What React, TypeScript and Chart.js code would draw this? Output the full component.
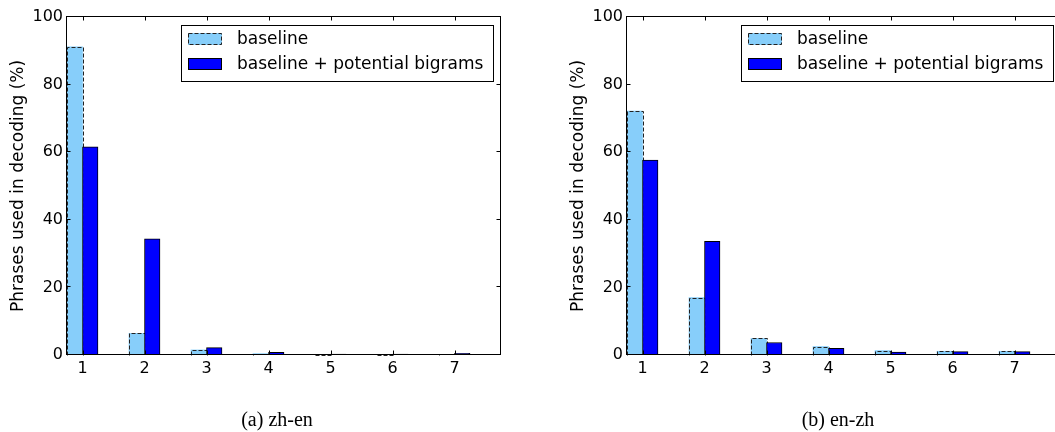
import React, { useEffect, useRef } from 'react';
import { Chart, registerables } from 'chart.js';

Chart.register(...registerables);

// ---- data ----
const CATEGORIES = [1, 2, 3, 4, 5, 6, 7];
const ZH_EN_BASELINE = [91.2, 6.4, 1.5, 0.4, 0.1, 0.1, 0.2];
const ZH_EN_BIGRAMS = [61.6, 34.4, 2.2, 0.8, 0.3, 0.3, 0.5];
const EN_ZH_BASELINE = [72.2, 17.0, 4.9, 2.5, 1.3, 1.1, 1.1];
const EN_ZH_BIGRAMS = [57.7, 33.6, 3.7, 2.0, 0.9, 1.0, 1.0];
const Y_TICKS = [0, 20, 40, 60, 80, 100];
const SERIES_LABELS = ['baseline', 'baseline + potential bigrams'];
const Y_TITLE = 'Phrases used in decoding (%)';
const CAPTIONS = ['(a) zh-en', '(b) en-zh'];

// ---- styles ----
const LIGHT = '#87CEFA';
const DARK = '#0000FF';
const FONT = "'DejaVu Sans', sans-serif";
const BAR_HALF = 0.125;

Chart.defaults.font.family = FONT;
Chart.defaults.font.size = 16;
Chart.defaults.color = '#000';

const decorPlugin = {
  id: 'decor',
  afterDatasetDraw(chart: any, args: any) {
    if (args.index !== 0) return;
    const ctx = chart.ctx;
    ctx.save();
    ctx.strokeStyle = '#222';
    ctx.lineWidth = 1;
    ctx.setLineDash([4, 2]);
    for (const el of args.meta.data) {
      const p = el.getProps(['x', 'y', 'base', 'width'], true);
      const l = Math.round(p.x - p.width / 2) + 0.5;
      const r = Math.round(p.x + p.width / 2) + 0.5;
      const t = Math.round(p.y) + 0.5;
      const b = Math.round(p.base) + 0.5;
      ctx.beginPath();
      ctx.moveTo(l, b);
      ctx.lineTo(l, t);
      ctx.lineTo(r, t);
      ctx.lineTo(r, b);
      ctx.stroke();
    }
    ctx.restore();
  },
  afterDraw(chart: any) {
    const ctx = chart.ctx;
    const ca = chart.chartArea;
    const xs = chart.scales.x;
    const ys = chart.scales.y;
    const x0 = Math.round(ca.left) - 0.5;
    const x1 = Math.round(ca.right) - 0.5;
    const y0 = Math.round(ca.top) - 0.5;
    const y1 = Math.round(ca.bottom) - 0.5;
    ctx.save();
    ctx.strokeStyle = '#000';
    ctx.lineWidth = 1;
    ctx.setLineDash([]);
    ctx.strokeRect(x0, y0, x1 - x0, y1 - y0);
    const TL = 4;
    ctx.beginPath();
    for (const t of xs.ticks) {
      const px = Math.round(xs.getPixelForValue(t.value)) + 0.5;
      ctx.moveTo(px, y1);
      ctx.lineTo(px, y1 - TL);
      ctx.moveTo(px, y0);
      ctx.lineTo(px, y0 + TL);
    }
    for (const t of ys.ticks) {
      const py = Math.round(ys.getPixelForValue(t.value)) - 0.5;
      ctx.moveTo(x0, py);
      ctx.lineTo(x0 + TL, py);
      ctx.moveTo(x1, py);
      ctx.lineTo(x1 - TL, py);
    }
    ctx.stroke();

    // legend
    const bx = Math.round(ca.left) + 114;
    const by = Math.round(ca.top) + 8;
    const bw = Math.round(ca.right) - 8 - bx;
    const bh = 56;
    ctx.fillStyle = '#fff';
    ctx.fillRect(bx, by, bw, bh);
    ctx.strokeStyle = '#000';
    ctx.strokeRect(bx + 0.5, by + 0.5, bw, bh);
    const ds = chart.data.datasets;
    const rows = [by + 8, by + 33];
    ds.forEach((d: any, i: number) => {
      const py = rows[i];
      const px = bx + 7;
      ctx.fillStyle = d.backgroundColor;
      ctx.fillRect(px, py, 34, 12);
      if (i === 0) {
        ctx.setLineDash([4, 2]);
        ctx.strokeStyle = '#222';
      } else {
        ctx.setLineDash([]);
        ctx.strokeStyle = '#000';
      }
      ctx.strokeRect(px + 0.5, py + 0.5, 33, 11);
      ctx.setLineDash([]);
      ctx.fillStyle = '#000';
      ctx.font = `17px ${FONT}`;
      ctx.textBaseline = 'middle';
      ctx.textAlign = 'left';
      ctx.fillText(d.label, bx + 56, py + 6.5);
    });
    ctx.restore();
  },
};

type PanelProps = { left: number; baseline: number[]; bigrams: number[] };

function Panel({ left, baseline, bigrams }: PanelProps) {
  const ref = useRef<HTMLCanvasElement>(null);
  useEffect(() => {
    const chart = new Chart(ref.current as HTMLCanvasElement, {
      type: 'bar',
      data: {
        datasets: [
          {
            label: SERIES_LABELS[0],
            data: CATEGORIES.map((c, i) => ({ x: c - BAR_HALF, y: baseline[i] })),
            backgroundColor: LIGHT,
            borderWidth: 0,
            order: 1,
          },
          {
            label: SERIES_LABELS[1],
            data: CATEGORIES.map((c, i) => ({ x: c + BAR_HALF, y: bigrams[i] })),
            backgroundColor: DARK,
            borderColor: '#000',
            borderWidth: 1,
            borderSkipped: false,
            order: 0,
          },
        ],
      },
      options: {
        responsive: false,
        animation: false,
        events: [],
        layout: { padding: { left: 0, top: 17, right: 9, bottom: 47 } },
        datasets: { bar: { grouped: false, barPercentage: 1, categoryPercentage: 1 } },
        plugins: { legend: { display: false }, tooltip: { enabled: false } },
        scales: {
          x: {
            type: 'linear',
            min: CATEGORIES[0] - 2 * BAR_HALF,
            max: CATEGORIES[CATEGORIES.length - 1] + 6 * BAR_HALF,
            offset: false,
            grid: { display: false, drawTicks: false },
            border: { display: false },
            afterBuildTicks: (scale: any) => {
              scale.ticks = CATEGORIES.map((v) => ({ value: v }));
            },
            afterFit: (scale: any) => {
              scale.height = 30;
            },
            ticks: {
              padding: 4,
              color: '#000',
              font: { size: 16 },
              maxRotation: 0,
              autoSkip: false,
              callback: (v: any) => String(v),
            },
          },
          y: {
            type: 'linear',
            min: 0,
            max: 100,
            grid: { display: false, drawTicks: false },
            border: { display: false },
            afterBuildTicks: (scale: any) => {
              scale.ticks = Y_TICKS.map((v) => ({ value: v }));
            },
            afterFit: (scale: any) => {
              scale.width = 67;
            },
            ticks: { padding: 4, color: '#000', font: { size: 16 } },
            title: {
              display: true,
              text: Y_TITLE,
              color: '#000',
              font: { size: 17 },
              padding: { top: 8, bottom: 0 },
            },
          },
        },
      },
      plugins: [decorPlugin],
    } as any);
    return () => chart.destroy();
  }, []);
  return (
    <canvas
      ref={ref}
      width={510}
      height={432}
      style={{ position: 'absolute', left, top: 0, width: 510, height: 432 }}
    />
  );
}

const captionStyle = (cx: number): React.CSSProperties => ({
  position: 'absolute',
  left: cx,
  top: 407,
  transform: 'translateX(-50%)',
  fontFamily: "'Liberation Serif', 'Times New Roman', serif",
  fontSize: 20,
  lineHeight: '24px',
  whiteSpace: 'nowrap',
  color: '#000',
});

export default function App() {
  return (
    <div
      style={{
        position: 'absolute',
        left: 0,
        top: 0,
        width: 1055,
        height: 432,
        overflow: 'hidden',
        background: '#fff',
      }}
    >
      <Panel left={0} baseline={ZH_EN_BASELINE} bigrams={ZH_EN_BIGRAMS} />
      <Panel left={560} baseline={EN_ZH_BASELINE} bigrams={EN_ZH_BIGRAMS} />
      <div style={captionStyle(277)}>{CAPTIONS[0]}</div>
      <div style={captionStyle(838)}>{CAPTIONS[1]}</div>
    </div>
  );
}
